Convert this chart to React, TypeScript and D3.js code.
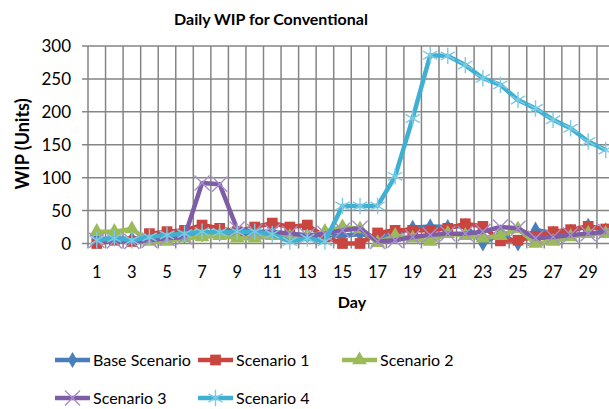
import React, { useEffect } from 'react';
import * as d3 from 'd3';

// days on the category axis
const days = d3.range(1, 31);
const dayLabels = days.filter(d => d % 2 === 1);
const yTicks = [0, 50, 100, 150, 200, 250, 300];

// WIP per day
const baseScenario = [6, 8, 7, 9, 10, 12, 14, 15, 14, 16, 17, 15, 12, 10, 12, 14, 10, 15, 24, 26, 25, 27, 0, 15, 0, 21, 15, 18, 27, 20];
const scenario1 = [0, 5, 3, 15, 18, 20, 28, 23, 18, 25, 31, 25, 28, 10, 0, 0, 16, 20, 20, 20, 23, 30, 26, 4, 5, 11, 18, 21, 26, 22];
const scenario2 = [18, 18, 22, 3, 3, 8, 10, 12, 8, 8, 12, 10, 10, 18, 25, 22, 1, 12, 8, 3, 15, 12, 8, 12, 22, 0, 3, 10, 15, 15];
const scenario3 = [5, 4, 3, 5, 8, 10, 92, 90, 22, 18, 18, 15, 12, 15, 20, 23, 3, 5, 10, 13, 15, 15, 18, 25, 23, 8, 10, 13, 15, 18];
const scenario4 = [5, 8, 5, 10, 13, 15, 18, 17, 18, 18, 14, 3, 8, 3, 57, 57, 57, 102, 190, 286, 285, 271, 251, 241, 218, 205, 188, 175, 155, 142];

const seriesNames = ['Base Scenario', 'Scenario 1', 'Scenario 2', 'Scenario 3', 'Scenario 4'];
const seriesValues = [baseScenario, scenario1, scenario2, scenario3, scenario4];
const colors = ['#4A7EBB', '#C9453F', '#9BBB59', '#7E5CA6', '#40B0D2'];
const markColors = ['#4A7EBB', '#C9453F', '#9BBB59', '#A68FCB', '#7DCBE2'];
const symbols = [d3.symbolDiamond, d3.symbolSquare, d3.symbolTriangle, d3.symbolTimes, d3.symbolAsterisk];
const symbolSizes = [75, 115, 95, 150, 190];
const filled = [true, true, true, false, false];

const W = 609;
const H = 409;
const left = 88;
const top = 46;
const bottom = 243.5;
const band = 17.55;
const font = 'Lato, "Open Sans", sans-serif';

export default function App() {
  useEffect(() => {
    document.body.style.margin = '0';
  }, []);

  const x = d3.scaleBand<number>().domain(days).range([left, left + band * days.length]);
  const y = d3.scaleLinear().domain([0, 300]).range([bottom, top]);
  const cx = (d: number) => (x(d) as number) + x.bandwidth() / 2;
  const right = left + band * days.length;

  const line = d3.line<number>()
    .x((_, i) => cx(days[i]))
    .y(v => y(v));

  const legend = [
    { i: 0, x: 55, y: 360 },
    { i: 1, x: 198, y: 360 },
    { i: 2, x: 342, y: 360 },
    { i: 3, x: 55, y: 398 },
    { i: 4, x: 198, y: 398 },
  ];

  return (
    <svg width={W} height={H} style={{ display: 'block', background: '#fff' }} fontFamily={font}>
      <text x={271} y={25} textAnchor="middle" fontWeight="bold" fontSize={16} fill="#000">
        Daily WIP for Conventional
      </text>

      {/* grid */}
      <g stroke="#858585" strokeWidth={1.5}>
        {yTicks.map(t => (
          <line key={'h' + t} x1={left - 6} x2={right} y1={y(t)} y2={y(t)} />
        ))}
        {d3.range(days.length + 1).map(k => (
          <line key={'v' + k} x1={left + k * band} x2={left + k * band} y1={top} y2={bottom + 5} />
        ))}
      </g>

      {/* y ticks */}
      <g fontSize={17} textAnchor="end" fill="#000">
        {yTicks.map(t => (
          <text key={t} x={71} y={y(t) + 6}>{t}</text>
        ))}
      </g>
      <text transform={`translate(29,144) rotate(-90)`} textAnchor="middle" fontWeight="bold" fontSize={18}>
        WIP (Units)
      </text>

      {/* x ticks */}
      <g fontSize={16.5} textAnchor="middle" fill="#000">
        {dayLabels.map(d => (
          <text key={d} x={cx(d)} y={278}>{d}</text>
        ))}
      </g>
      <text x={352} y={308} textAnchor="middle" fontWeight="bold" fontSize={16}>Day</text>

      {/* series */}
      {seriesValues.map((vals, s) => (
        <g key={s}>
          <path d={line(vals) || ''} fill="none" stroke={colors[s]} strokeWidth={4.5} strokeLinejoin="round" />
          {vals.map((v, i) => (
            <path
              key={i}
              transform={`translate(${cx(days[i])},${y(v)})`}
              d={d3.symbol(symbols[s], symbolSizes[s])() || ''}
              fill={filled[s] ? colors[s] : 'none'}
              stroke={markColors[s]}
              strokeWidth={filled[s] ? 0 : 1.4}
            />
          ))}
        </g>
      ))}

      {/* legend */}
      <g fontSize={16} fill="#000">
        {legend.map(l => (
          <g key={l.i}>
            <line x1={l.x} x2={l.x + 35} y1={l.y} y2={l.y} stroke={colors[l.i]} strokeWidth={4.5} />
            <path
              transform={`translate(${l.x + 17.5},${l.y})`}
              d={d3.symbol(symbols[l.i], symbolSizes[l.i])() || ''}
              fill={filled[l.i] ? colors[l.i] : 'none'}
              stroke={markColors[l.i]}
              strokeWidth={filled[l.i] ? 0 : 1.4}
            />
            <text x={l.x + 38} y={l.y + 5.5}>{seriesNames[l.i]}</text>
          </g>
        ))}
      </g>
    </svg>
  );
}
